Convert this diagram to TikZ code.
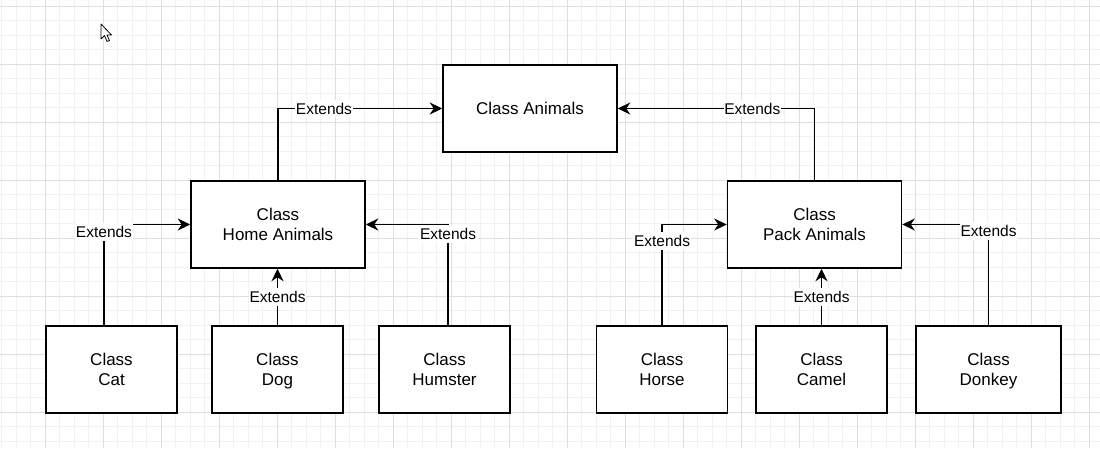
\documentclass[tikz,border=0pt]{standalone}
\usepackage{fontspec}
\setmainfont{Liberation Sans}
\usetikzlibrary{arrows.meta}
\definecolor{gridminor}{RGB}{241,241,241}
\definecolor{gridmajor}{RGB}{223,223,223}
\tikzset{classbox/.style = {draw, line width=1.5pt, fill=white,
                            minimum width=174pt, minimum height=87pt,
                            inner sep=0pt, align=center, text depth=0pt,
                            font=\fontsize{17}{20.5}\selectfont},
         smallbox/.style = {classbox, minimum width=131pt},
         extends/.style = {-{Stealth[length=12.5pt, width=12pt, inset=4pt]},
                           line width=1.4pt},
         lbl/.style = {fill=white, inner xsep=0.6pt, inner ysep=3pt,
                       font=\fontsize{15.5}{18}\selectfont}}

\begin{document}
\begin{tikzpicture}[x=1pt, y=-1pt]
      \useasboundingbox [fill=white] (0, 0) rectangle (1100, 448);

      % grid
      \foreach \gx in {0,...,75}
        \draw [gridminor, line width=0.8pt] (1.8 + 14.5*\gx, 0) -- +(0, 448);
      \foreach \gy in {0,...,30}
        \draw [gridminor, line width=0.8pt] (0, 6 + 14.5*\gy) -- +(1100, 0);
      \foreach \gx in {0,...,18}
        \draw [gridmajor, line width=0.9pt] (45.3 + 58*\gx, 0) -- +(0, 448);
      \foreach \gy in {0,...,7}
        \draw [gridmajor, line width=0.9pt] (0, 6 + 58*\gy) -- +(1100, 0);

      % cursor
      \draw [fill=white, line width=0.8pt, line join=round]
        (101, 24) -- (101, 39) -- (104.5, 35.5) -- (107, 41.5) --
        (109.5, 40.5) -- (107, 35) -- (111.5, 35) -- cycle;

      % classes
      \node [classbox] (animals) at (530, 108.5) {Class Animals};
      \node [classbox] (home) at (278, 224.5) {Class\\Home Animals};
      \node [classbox] (pack) at (814.5, 224.5) {Class\\Pack Animals};

      \node [smallbox] (cat) at (111.5, 369.5) {Class\\Cat};
      \node [smallbox] (dog) at (277.5, 369.5) {Class\\Dog};
      \node [smallbox] (humster) at (444.5, 369.5) {Class\\Humster};
      \node [smallbox] (horse) at (662, 369.5) {Class\\Horse};
      \node [smallbox] (camel) at (821.5, 369.5) {Class\\Camel};
      \node [smallbox, minimum width=145pt] (donkey) at (988.5, 369.5) {Class\\Donkey};

      % inheritance
      \draw [extends] (home.north) |- (animals.west) node [lbl, pos=0.64] {Extends};
      \draw [extends] (pack.north) |- (animals.east) node [lbl, pos=0.658] {Extends};

      \draw [extends] ([xshift=-7.5pt]cat.north) |- (home.west) node [lbl, pos=0.463] {Extends};
      \draw [extends] (dog.north) -- (dog.north |- home.south) node [lbl, midway] {Extends};
      \draw [extends] ([xshift=3.5pt]humster.north) |- (home.east) node [lbl, pos=0.453] {Extends};

      \draw [extends] (horse.north) |- (pack.west) node [lbl, pos=0.419] {Extends};
      \draw [extends] (camel.north) -- (camel.north |- pack.south) node [lbl, midway] {Extends};
      \draw [extends] (donkey.north) |- (pack.east) node [lbl, pos=0.468] {Extends};
    \end{tikzpicture}
\end{document}
